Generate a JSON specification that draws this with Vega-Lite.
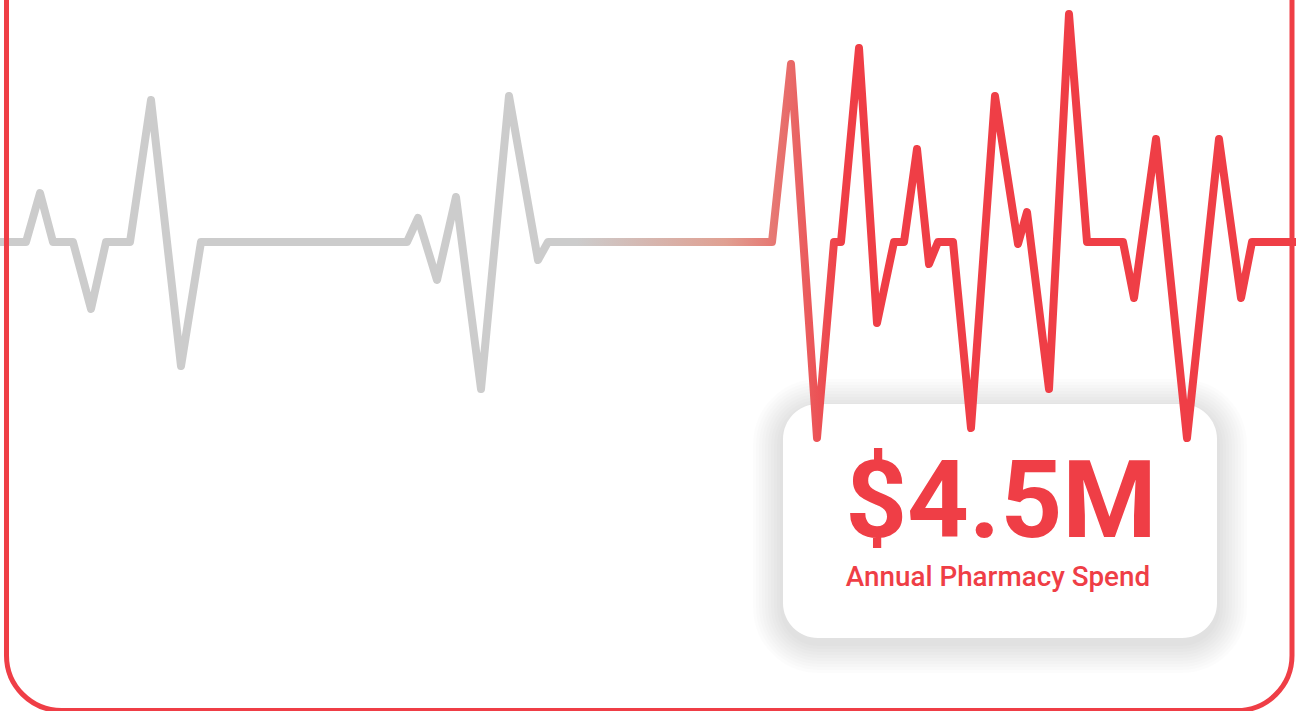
{
  "$schema": "https://vega.github.io/schema/vega-lite/v6.json",
  "width": 1296,
  "height": 711,
  "autosize": {"type": "fit", "contains": "padding"},
  "padding": 0,
  "background": "#ffffff",
  "config": {"view": {"stroke": null}},
  "data": {"values": [
    {"t": 0, "signal": 0}, {"t": 26, "signal": 0}, {"t": 40, "signal": 49}, {"t": 53, "signal": 0},
    {"t": 73, "signal": 0}, {"t": 91, "signal": -67}, {"t": 106, "signal": 0}, {"t": 130, "signal": 0},
    {"t": 151, "signal": 142}, {"t": 181, "signal": -124}, {"t": 201, "signal": 0}, {"t": 407, "signal": 0},
    {"t": 418, "signal": 24}, {"t": 437, "signal": -38}, {"t": 456, "signal": 45}, {"t": 481, "signal": -147},
    {"t": 509, "signal": 146}, {"t": 538, "signal": -18}, {"t": 548, "signal": 0}, {"t": 772, "signal": 0},
    {"t": 791, "signal": 178}, {"t": 817, "signal": -196}, {"t": 834, "signal": 0}, {"t": 841, "signal": 0},
    {"t": 859, "signal": 194}, {"t": 877, "signal": -81}, {"t": 894, "signal": 0}, {"t": 904, "signal": 0},
    {"t": 917, "signal": 93}, {"t": 929, "signal": -22}, {"t": 938, "signal": 0}, {"t": 953, "signal": 0},
    {"t": 971, "signal": -186}, {"t": 995, "signal": 146}, {"t": 1018, "signal": -2}, {"t": 1027, "signal": 30},
    {"t": 1049, "signal": -147}, {"t": 1069, "signal": 228}, {"t": 1087, "signal": 0}, {"t": 1123, "signal": 0},
    {"t": 1134, "signal": -56}, {"t": 1156, "signal": 103}, {"t": 1187, "signal": -196}, {"t": 1219, "signal": 103},
    {"t": 1241, "signal": -56}, {"t": 1252, "signal": 0}, {"t": 1296, "signal": 0}
  ]},
  "layer": [
    {
      "data": {"values": [{}]},
      "mark": {"type": "rect", "fill": "#000000", "opacity": 0.012, "cornerRadius": 65, "clip": true},
      "encoding": {
        "x": {"datum": 753, "type": "quantitative", "scale": {"domain": [0, 1296], "nice": false, "zero": false}, "axis": null},
        "x2": {"datum": 1247},
        "y": {"datum": -137, "type": "quantitative", "scale": {"domain": [-469, 242], "nice": false, "zero": false}, "axis": null},
        "y2": {"datum": -431}
      }
    },
    {
      "data": {"values": [{}]},
      "mark": {"type": "rect", "fill": "#000000", "opacity": 0.012, "cornerRadius": 62, "clip": true},
      "encoding": {
        "x": {"datum": 756, "type": "quantitative", "scale": {"domain": [0, 1296], "nice": false, "zero": false}, "axis": null},
        "x2": {"datum": 1244},
        "y": {"datum": -140, "type": "quantitative", "scale": {"domain": [-469, 242], "nice": false, "zero": false}, "axis": null},
        "y2": {"datum": -428}
      }
    },
    {
      "data": {"values": [{}]},
      "mark": {"type": "rect", "fill": "#000000", "opacity": 0.012, "cornerRadius": 59, "clip": true},
      "encoding": {
        "x": {"datum": 759, "type": "quantitative", "scale": {"domain": [0, 1296], "nice": false, "zero": false}, "axis": null},
        "x2": {"datum": 1241},
        "y": {"datum": -143, "type": "quantitative", "scale": {"domain": [-469, 242], "nice": false, "zero": false}, "axis": null},
        "y2": {"datum": -425}
      }
    },
    {
      "data": {"values": [{}]},
      "mark": {"type": "rect", "fill": "#000000", "opacity": 0.012, "cornerRadius": 56, "clip": true},
      "encoding": {
        "x": {"datum": 762, "type": "quantitative", "scale": {"domain": [0, 1296], "nice": false, "zero": false}, "axis": null},
        "x2": {"datum": 1238},
        "y": {"datum": -146, "type": "quantitative", "scale": {"domain": [-469, 242], "nice": false, "zero": false}, "axis": null},
        "y2": {"datum": -422}
      }
    },
    {
      "data": {"values": [{}]},
      "mark": {"type": "rect", "fill": "#000000", "opacity": 0.012, "cornerRadius": 53, "clip": true},
      "encoding": {
        "x": {"datum": 765, "type": "quantitative", "scale": {"domain": [0, 1296], "nice": false, "zero": false}, "axis": null},
        "x2": {"datum": 1235},
        "y": {"datum": -149, "type": "quantitative", "scale": {"domain": [-469, 242], "nice": false, "zero": false}, "axis": null},
        "y2": {"datum": -419}
      }
    },
    {
      "data": {"values": [{}]},
      "mark": {"type": "rect", "fill": "#000000", "opacity": 0.012, "cornerRadius": 50, "clip": true},
      "encoding": {
        "x": {"datum": 768, "type": "quantitative", "scale": {"domain": [0, 1296], "nice": false, "zero": false}, "axis": null},
        "x2": {"datum": 1232},
        "y": {"datum": -152, "type": "quantitative", "scale": {"domain": [-469, 242], "nice": false, "zero": false}, "axis": null},
        "y2": {"datum": -416}
      }
    },
    {
      "data": {"values": [{}]},
      "mark": {"type": "rect", "fill": "#000000", "opacity": 0.012, "cornerRadius": 47, "clip": true},
      "encoding": {
        "x": {"datum": 771, "type": "quantitative", "scale": {"domain": [0, 1296], "nice": false, "zero": false}, "axis": null},
        "x2": {"datum": 1229},
        "y": {"datum": -155, "type": "quantitative", "scale": {"domain": [-469, 242], "nice": false, "zero": false}, "axis": null},
        "y2": {"datum": -413}
      }
    },
    {
      "data": {"values": [{}]},
      "mark": {"type": "rect", "fill": "#000000", "opacity": 0.012, "cornerRadius": 44, "clip": true},
      "encoding": {
        "x": {"datum": 774, "type": "quantitative", "scale": {"domain": [0, 1296], "nice": false, "zero": false}, "axis": null},
        "x2": {"datum": 1226},
        "y": {"datum": -158, "type": "quantitative", "scale": {"domain": [-469, 242], "nice": false, "zero": false}, "axis": null},
        "y2": {"datum": -410}
      }
    },
    {
      "data": {"values": [{}]},
      "mark": {"type": "rect", "fill": "#000000", "opacity": 0.012, "cornerRadius": 41, "clip": true},
      "encoding": {
        "x": {"datum": 777, "type": "quantitative", "scale": {"domain": [0, 1296], "nice": false, "zero": false}, "axis": null},
        "x2": {"datum": 1223},
        "y": {"datum": -161, "type": "quantitative", "scale": {"domain": [-469, 242], "nice": false, "zero": false}, "axis": null},
        "y2": {"datum": -407}
      }
    },
    {
      "data": {"values": [{}]},
      "mark": {"type": "rect", "fill": "#000000", "opacity": 0.012, "cornerRadius": 38, "clip": true},
      "encoding": {
        "x": {"datum": 780, "type": "quantitative", "scale": {"domain": [0, 1296], "nice": false, "zero": false}, "axis": null},
        "x2": {"datum": 1220},
        "y": {"datum": -164, "type": "quantitative", "scale": {"domain": [-469, 242], "nice": false, "zero": false}, "axis": null},
        "y2": {"datum": -404}
      }
    },
    {
      "data": {"values": [{}]},
      "mark": {"type": "rect", "fill": "#ffffff", "cornerRadius": 35, "clip": true},
      "encoding": {
        "x": {"datum": 783, "type": "quantitative", "scale": {"domain": [0, 1296], "nice": false, "zero": false}, "axis": null},
        "x2": {"datum": 1217},
        "y": {"datum": -162, "type": "quantitative", "scale": {"domain": [-469, 242], "nice": false, "zero": false}, "axis": null},
        "y2": {"datum": -396}
      }
    },
    {
      "mark": {
        "type": "line",
        "strokeWidth": 8,
        "strokeJoin": "round",
        "strokeCap": "round",
        "clip": true,
        "stroke": {
          "gradient": "linear",
          "x1": 0, "y1": 0, "x2": 1, "y2": 0,
          "stops": [
            {"offset": 0, "color": "#cccccc"},
            {"offset": 0.445, "color": "#cccccc"},
            {"offset": 0.56, "color": "#e0a092"},
            {"offset": 0.65, "color": "#ef3e46"},
            {"offset": 1, "color": "#ef3e46"}
          ]
        }
      },
      "encoding": {
        "x": {"field": "t", "type": "quantitative", "scale": {"domain": [0, 1296], "nice": false, "zero": false}, "axis": null},
        "y": {"field": "signal", "type": "quantitative", "scale": {"domain": [-469, 242], "nice": false, "zero": false}, "axis": null}
      }
    },
    {
      "data": {"values": [{"label": "$4.5M"}]},
      "mark": {"type": "text", "font": "Roboto", "fontWeight": "bold", "fontSize": 108, "color": "#ef3e46", "align": "center", "baseline": "alphabetic"},
      "encoding": {
        "x": {"datum": 1001, "type": "quantitative", "scale": {"domain": [0, 1296], "nice": false, "zero": false}, "axis": null},
        "y": {"datum": -295, "type": "quantitative", "scale": {"domain": [-469, 242], "nice": false, "zero": false}, "axis": null},
        "text": {"field": "label"}
      }
    },
    {
      "data": {"values": [{"label": "Annual Pharmacy Spend"}]},
      "mark": {"type": "text", "font": "Roboto", "fontWeight": 500, "fontSize": 27.8, "color": "#ef3e46", "align": "center", "baseline": "alphabetic"},
      "encoding": {
        "x": {"datum": 998, "type": "quantitative", "scale": {"domain": [0, 1296], "nice": false, "zero": false}, "axis": null},
        "y": {"datum": -344, "type": "quantitative", "scale": {"domain": [-469, 242], "nice": false, "zero": false}, "axis": null},
        "text": {"field": "label"}
      }
    },
    {
      "data": {"values": [{}]},
      "mark": {"type": "rect", "filled": false, "stroke": "#ef3e46", "strokeWidth": 5, "cornerRadius": 55, "clip": true},
      "encoding": {
        "x": {"datum": 6.5, "type": "quantitative", "scale": {"domain": [0, 1296], "nice": false, "zero": false}, "axis": null},
        "x2": {"datum": 1292},
        "y": {"datum": 302, "type": "quantitative", "scale": {"domain": [-469, 242], "nice": false, "zero": false}, "axis": null},
        "y2": {"datum": -468.5}
      }
    }
  ]
}
